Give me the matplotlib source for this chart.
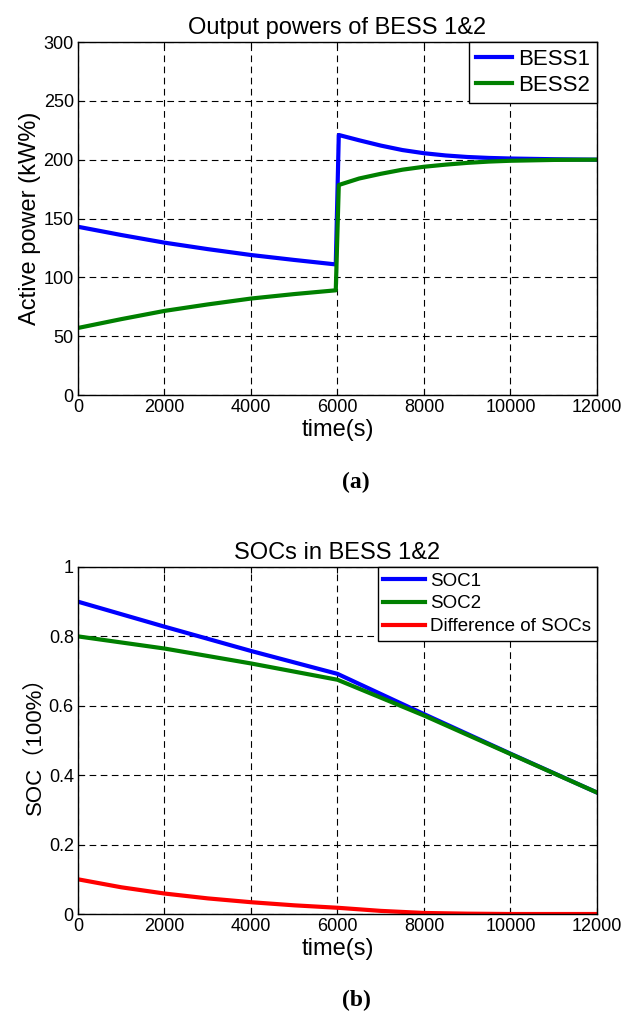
#!/usr/bin/env python3
"""Output powers and SOCs of BESS 1&2 (two stacked MATLAB-style panels)."""

import matplotlib
matplotlib.use("Agg")
import matplotlib.pyplot as plt

plt.rcParams["font.family"] = ["Liberation Sans", "Noto Sans CJK SC", "DejaVu Sans"]

# panel (a): active power
t_power = [0, 1000, 2000, 3000, 4000, 5000, 5960, 6030, 6500, 7000, 7500, 8000,
           8500, 9000, 9500, 10000, 11000, 12000]
bess1 = [143, 136, 129.5, 124, 119, 114.8, 111, 221, 216.5, 212, 208.2, 205.5,
         203.6, 202.3, 201.5, 201, 200.4, 200]
bess2 = [57, 64.5, 71.5, 77, 82, 85.8, 89, 178.5, 184, 188, 191.5, 194,
         195.8, 197.3, 198.4, 199.1, 199.8, 200]

# panel (b): SOCs
t_soc = [0, 2000, 4000, 6000, 8000, 10000, 12000]
soc1 = [0.90, 0.828, 0.758, 0.692, 0.576, 0.462, 0.35]
soc2 = [0.80, 0.765, 0.722, 0.675, 0.572, 0.461, 0.35]
soc_t_diff = [0, 1000, 2000, 3000, 4000, 5000, 6000, 7000, 8000, 9000, 10000, 12000]
soc_diff = [0.10, 0.077, 0.059, 0.045, 0.034, 0.025, 0.018, 0.009, 0.003, 0.001, 0.0, 0.0]

BLUE = "#0000ff"
GREEN = "#008000"
RED = "#ff0000"
LW = 3.0


def style_axes(ax, ylim, yticks):
    ax.set_xlim(0, 12000)
    ax.set_ylim(*ylim)
    ax.set_xticks(range(0, 12001, 2000))
    ax.set_yticks(yticks)
    ax.tick_params(direction="in", top=True, right=True, labelsize=13,
                   length=4, width=0.8, pad=3)
    ax.grid(True, color="black", linestyle=(0, (6, 4)), linewidth=0.8)
    for sp in ax.spines.values():
        sp.set_linewidth(1.0)
    ax.set_xlabel("time(s)", fontsize=17, labelpad=2)


fig = plt.figure(figsize=(6.22, 10.15), dpi=100)

ax1 = fig.add_axes([0.1254, 0.6108, 0.8344, 0.3478])
ax1.plot(t_power, bess1, color=BLUE, lw=LW, label="BESS1")
ax1.plot(t_power, bess2, color=GREEN, lw=LW, label="BESS2")
style_axes(ax1, (0, 300), range(0, 301, 50))
ax1.set_ylabel("Active power (kW%)", fontsize=17, labelpad=2)
ax1.set_title("Output powers of BESS 1&2", fontsize=17, pad=6)
leg1 = ax1.legend(loc="upper right", fontsize=16, borderaxespad=0, handlelength=1.6,
                  handletextpad=0.3, borderpad=0.3, labelspacing=0.25, fancybox=False,
                  framealpha=1, edgecolor="black")
leg1.get_frame().set_linewidth(1.0)

ax2 = fig.add_axes([0.1254, 0.0995, 0.8344, 0.3419])
ax2.plot(t_soc, soc1, color=BLUE, lw=LW, label="SOC1")
ax2.plot(t_soc, soc2, color=GREEN, lw=LW, label="SOC2")
ax2.plot(soc_t_diff, soc_diff, color=RED, lw=LW, label="Difference of SOCs")
style_axes(ax2, (0, 1), [0, 0.2, 0.4, 0.6, 0.8, 1])
ax2.set_yticklabels(["0", "0.2", "0.4", "0.6", "0.8", "1"])
ax2.set_ylabel("SOC（100%）", fontsize=16, labelpad=2)
ax2.set_title("SOCs in BESS 1&2", fontsize=17, pad=6)
leg2 = ax2.legend(loc="upper right", fontsize=13.5, borderaxespad=0, handlelength=2.2,
                  handletextpad=0.3, borderpad=0.3, labelspacing=0.3, fancybox=False,
                  framealpha=1, edgecolor="black")
leg2.get_frame().set_linewidth(1.0)

fig.text(0.5725, 1 - 482 / 1015, "(a)", ha="center", va="center", fontsize=17,
         fontweight="bold", family="Liberation Serif")
fig.text(0.5725, 1 - 1000 / 1015, "(b)", ha="center", va="center", fontsize=17,
         fontweight="bold", family="Liberation Serif")

fig.savefig("out.png", dpi=100)
